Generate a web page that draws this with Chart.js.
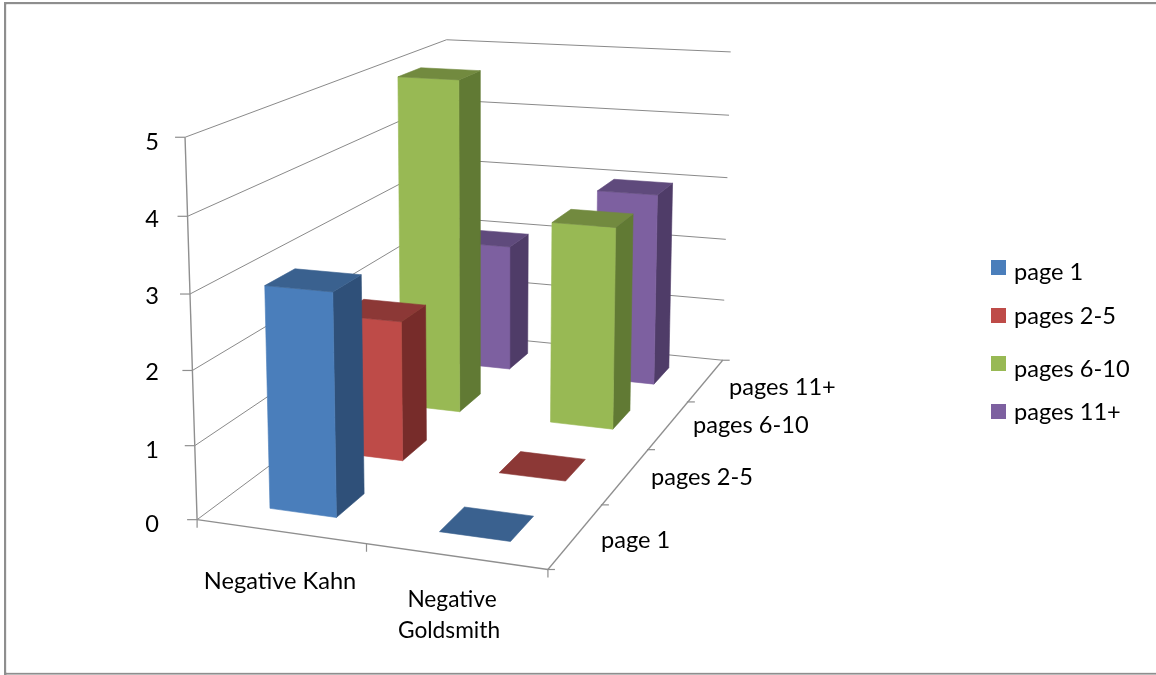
<!DOCTYPE html>
<html><head><meta charset="utf-8">
<style>html,body{margin:0;padding:0;background:#fff}canvas{display:block}</style>
<script src="https://cdn.jsdelivr.net/npm/chart.js@4"></script></head>
<body><div style="width:1156px;height:675px"><canvas id="c" width="1156" height="675"></canvas></div>
<script>
const categories = ["Negative Kahn", "Negative Goldsmith"];
const seriesNames = ["page 1", "pages 2-5", "pages 6-10", "pages 11+"];
const valuesPage1 = [3, 0];
const valuesPages2to5 = [2, 0];
const valuesPages6to10 = [5, 3];
const valuesPages11plus = [2, 3];
const valueTicks = [0, 1, 2, 3, 4, 5];
const seriesValues = [valuesPage1, valuesPages2to5, valuesPages6to10, valuesPages11plus];

const faceColors = [
  {front:"#4A7EBB", side:"#2F5079", top:"#3A618F"},
  {front:"#BE4B48", side:"#772C2A", top:"#8C3836"},
  {front:"#98B954", side:"#617A34", top:"#728A3F"},
  {front:"#7D60A0", side:"#4F3C68", top:"#5F4A7C"}
];
const GRID = "#8a8a8a", AXIS = "#8f8f8f";
const FONT = "23.6px Lato, Carlito, sans-serif";
const FONT_WRAPPED = "22.7px Lato, Carlito, sans-serif";
const W = 1156, H = 675;

// Camera calibration: box space (category, depth, height) -> picture position
const boxCorners = [
  [0,0,0,198,520],[2,0,0,548,570],[2,4,0,727,358],[0,4,0,447,333],
  [0,0,5,184,135],[0,4,5,447,40],[2,4,5,730,52]
];
const calibration = [
  [.3,.3,3,266,287],[.7,.3,3,334,292],[.7,.7,3,362,276],[.3,.3,0,271,509],[.7,.3,0,337,517],[.7,.7,0,364,494],
  [.3,2.3,5,399,76],[.7,2.3,5,461,79],[.7,2.7,5,481,71],[.3,2.7,5,421,67],[.7,2.3,0,459,412],[.7,2.7,0,480,394],
  [1.3,2.3,3,553,223],[1.7,2.3,3,616,228],[1.7,2.7,3,632,216],[1.3,2.7,3,571,210],[1.3,2.3,0,550,422],[1.7,2.3,0,611,429],[1.7,2.7,0,628,409],
  [1.3,3.3,3,597,192],[1.7,3.3,3,656,196],[1.7,3.7,3,672,184],[1.3,3.7,3,613,180],[1.7,3.3,0,652,384],[1.7,3.7,0,667,369],
  [1.3,.3,0,440,532],[1.7,.3,0,510,541],[1.7,.7,0,533,516],[1.3,.7,0,464,507],
  [1.3,1.3,0,499,472],[1.7,1.3,0,565,481],[1.7,1.7,0,583,459],[1.3,1.7,0,520,452],
  [.7,3.3,2,509,247],[.7,3.7,2,527,235],[.7,3.3,0,509,369],[.7,3.7,0,527,353],
  [.7,1.3,2,402,322],[.7,1.7,2,426,306],[.7,1.3,0,403,461],[.7,1.7,0,426,441]
];
function fitCamera(pts){
  const A=[],b=[];
  pts.forEach(([X,Y,Z,u,v])=>{u/=1000;v/=1000;
    A.push([X,Y,Z,1,0,0,0,0,-u*X,-u*Y,-u*Z]);b.push(u);
    A.push([0,0,0,0,X,Y,Z,1,-v*X,-v*Y,-v*Z]);b.push(v);});
  const n=11,M=[];
  for(let i=0;i<n;i++){M[i]=[];for(let j=0;j<=n;j++){let s=0;
    for(let k=0;k<A.length;k++)s+=A[k][i]*(j<n?A[k][j]:b[k]);
    M[i][j]=s+(i===j?1e-9:0);}}
  for(let i=0;i<n;i++){let p=i;for(let r=i+1;r<n;r++)if(Math.abs(M[r][i])>Math.abs(M[p][i]))p=r;
    [M[i],M[p]]=[M[p],M[i]];
    for(let r=0;r<n;r++){if(r===i)continue;const f=M[r][i]/M[i][i];for(let j=i;j<=n;j++)M[r][j]-=f*M[i][j];}}
  return M.map((r,i)=>r[n]/r[i]);
}
const P=fitCamera(calibration.concat(boxCorners,boxCorners,boxCorners));
function proj(X,Y,Z){const w=P[8]*X+P[9]*Y+P[10]*Z+1;
  return {x:1000*(P[0]*X+P[1]*Y+P[2]*Z+P[3])/w,y:1000*(P[4]*X+P[5]*Y+P[6]*Z+P[7])/w};}

const datasets=[];
function line(label,pts,color,width){datasets.push({label,data:pts,showLine:true,fill:false,borderColor:color,borderWidth:width||1,pointRadius:0,tension:0});}
function face(label,pts,color){datasets.push({label,data:pts.concat([pts[0]]),showLine:true,fill:'shape',backgroundColor:color,borderColor:color,borderWidth:0.6,pointRadius:0,tension:0,borderJoinStyle:'round'});}

const nC=categories.length,nS=seriesNames.length;
valueTicks.forEach(v=>{
  line("grid "+v,[proj(0,0,v),proj(0,nS,v),proj(nC,nS,v)],GRID,1);
  const p=proj(0,0,v);
  line("tick "+v,[{x:p.x-10,y:p.y},{x:p.x,y:p.y}],AXIS,1.2);
});
line("value axis",[proj(0,0,0),proj(0,0,valueTicks[valueTicks.length-1])],AXIS,1.4);
line("floor front",[proj(0,0,0),proj(nC,0,0)],AXIS,1.3);
line("floor side",[proj(nC,0,0),proj(nC,nS,0)],AXIS,1.3);
for(let i=0;i<=nC;i++){const p=proj(i,0,0);line("cat tick",[p,{x:p.x,y:p.y+8}],AXIS,1.2);}
for(let s=0;s<=nS;s++){const p=proj(nC,s,0);line("depth tick",[{x:p.x-1,y:p.y},{x:p.x+7,y:p.y}],AXIS,1.2);}

const G0=0.3,G1=0.7;
for(let s=nS-1;s>=0;s--){
  for(let c=0;c<nC;c++){
    const v=seriesValues[s][c],col=faceColors[s];
    const x0=c+G0,x1=c+G1,y0=s+G0,y1=s+G1;
    const name=seriesNames[s]+" / "+categories[c];
    if(v>0){
      face(name+" side",[proj(x1,y0,0),proj(x1,y1,0),proj(x1,y1,v),proj(x1,y0,v)],col.side);
      face(name+" front",[proj(x0,y0,0),proj(x1,y0,0),proj(x1,y0,v),proj(x0,y0,v)],col.front);
    }
    face(name+" top",[proj(x0,y0,v),proj(x1,y0,v),proj(x1,y1,v),proj(x0,y1,v)],col.top);
  }
}
datasets.forEach((d,i)=>{d.order=datasets.length-i;});

const textPlugin={id:'labels',
  beforeDraw(ch){const g=ch.ctx;g.save();g.fillStyle="#fff";g.fillRect(0,0,W,H);
    g.fillStyle="#8e8e8e";g.fillRect(4,2,W,2.4);g.fillRect(4,2,2.4,H);g.fillRect(4,672.6,W,2);
    g.fillStyle="#fff";g.fillRect(6.4,4.4,W,668.2);g.restore();},
  afterDraw(ch){const g=ch.ctx;g.save();g.font=FONT;g.fillStyle="#000";g.textBaseline="middle";
    g.textAlign="right";
    const vy=[524,450,372,296,219,142];
    valueTicks.forEach((v,i)=>{g.fillText(String(v),159,vy[i]);});
    g.textAlign="center";
    g.fillText(categories[0],280,581);
    g.font=FONT_WRAPPED;
    const wrapped=categories[1].split(" ");
    g.fillText(wrapped[0],452,600);
    g.fillText(wrapped[1],449,631);
    g.font=FONT;
    g.textAlign="left";
    const dl=[[601,540],[651,477],[693,425],[729,387]];
    seriesNames.forEach((n,i)=>g.fillText(n,dl[i][0],dl[i][1]));
    const ly=[260,308,356,404],ty=[272,316,369,412];
    seriesNames.forEach((n,i)=>{g.fillStyle=faceColors[i].front;g.fillRect(991,ly[i],15,15);
      g.fillStyle="#000";g.fillText(n,1014,ty[i]);});
    g.restore();}
};
new Chart(document.getElementById('c'),{type:'scatter',data:{datasets},plugins:[textPlugin],
  options:{responsive:false,animation:false,devicePixelRatio:1,layout:{padding:0},
    plugins:{legend:{display:false},tooltip:{enabled:false},title:{display:false}},
    scales:{x:{type:'linear',display:false,min:0,max:W},y:{type:'linear',display:false,min:0,max:H,reverse:true}}}});
</script></body></html>
